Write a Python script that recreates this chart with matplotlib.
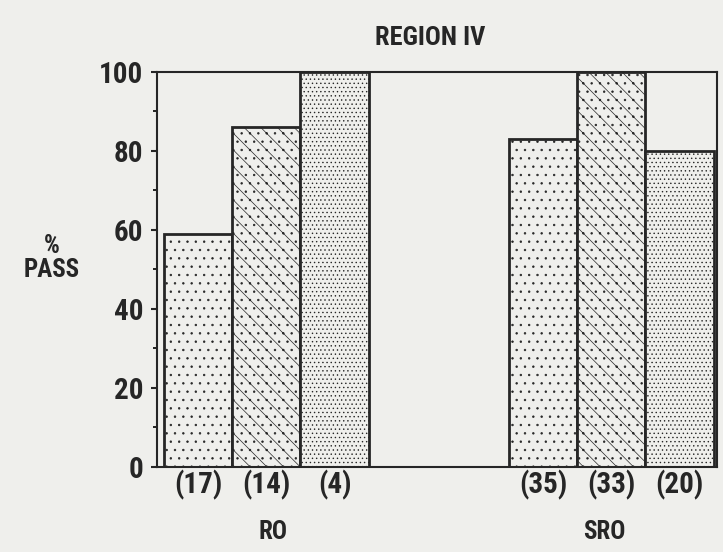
import matplotlib
matplotlib.use("Agg")
import matplotlib.pyplot as plt
from matplotlib.ticker import MultipleLocator
from matplotlib import font_manager

groups = ["RO", "SRO"]
ro_values = [59, 86, 100]
sro_values = [83, 100, 80]
ro_counts = ["(17)", "(14)", "(4)"]
sro_counts = ["(35)", "(33)", "(20)"]
hatches = ["..", "\\\\..", "...."]

names = {f.name for f in font_manager.fontManager.ttflist}
fams = [n for n in ['Liberation Sans Narrow', 'DejaVu Sans Condensed', 'Roboto Condensed', 'DejaVu Sans'] if n in names]
plt.rcParams['font.family'] = fams
plt.rcParams['font.weight'] = 'bold'
plt.rcParams['hatch.linewidth'] = 0.5
plt.rcParams['hatch.color'] = '#9a9a9a'

ink = '#262626'
bg = '#efefec'
fig = plt.figure(figsize=(7.23, 5.52), dpi=100, facecolor=bg)
ax = fig.add_axes([0.217, 0.154, 0.775, 0.716])
ax.set_facecolor(bg)

ro_x = [0.6, 1.6, 2.6]
sro_x = [5.65, 6.65, 7.65]
for xs, vals, cnts in [(ro_x, ro_values, ro_counts), (sro_x, sro_values, sro_counts)]:
    for x, v, c, h in zip(xs, vals, cnts, hatches):
        ax.bar(x, v, width=1.0, color=bg, edgecolor=ink, linewidth=2.0, hatch=h)
        ax.text(x, -0.8, c, ha='center', va='top', fontsize=21, color=ink)

ax.text(1.7, -13.5, groups[0], ha='center', va='top', fontsize=18, color=ink)
ax.text(6.55, -13.5, groups[1], ha='center', va='top', fontsize=18, color=ink)

ax.set_xlim(0, 8.2)
ax.set_ylim(0, 100)
ax.set_xticks([])
ax.yaxis.set_major_locator(MultipleLocator(20))
ax.yaxis.set_minor_locator(MultipleLocator(10))
ax.tick_params(axis='y', which='major', length=4, width=1.5, labelsize=21, colors=ink, pad=6)
ax.tick_params(axis='y', which='minor', length=3, width=1.2)
for s in ax.spines.values():
    s.set_linewidth(1.5)
    s.set_color(ink)

fig.text(52 / 723, 1 - 258 / 552, "%\nPASS", ha='center', va='center', fontsize=18,
         color=ink, linespacing=1.05)
fig.text(430 / 723, 1 - 38 / 552, "REGION IV", ha='center', va='center', fontsize=19,
         color=ink)

fig.savefig("out.png", dpi=100, facecolor=bg)
